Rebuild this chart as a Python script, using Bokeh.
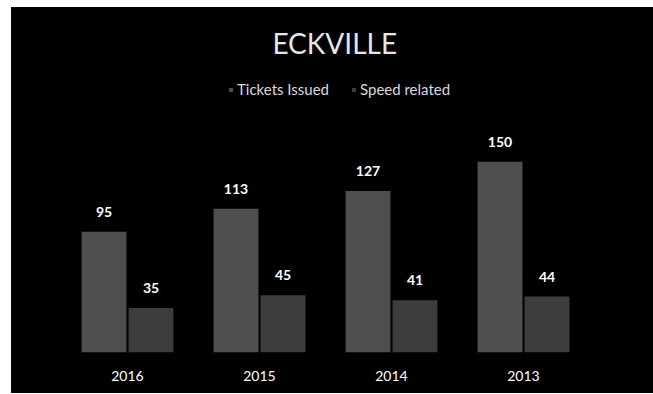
from bokeh.plotting import figure
from bokeh.models import (ColumnDataSource, FactorRange, Range1d, Label,
                          Legend, LegendItem)
from bokeh.transform import dodge
from bokeh.core.properties import value
from bokeh.embed import file_html
from bokeh.resources import INLINE

# Eckville traffic tickets per year
years = ["2016", "2015", "2014", "2013"]
tickets_issued = [95, 113, 127, 150]
speed_related = [35, 45, 41, 44]

TICKET_COLOR = "#4f4f4f"
SPEED_COLOR = "#3d3d3d"
FONT = "Lato"

src = ColumnDataSource(dict(
    year=years,
    tickets=tickets_issued,
    speed=speed_related,
    tickets_txt=[str(v) for v in tickets_issued],
    speed_txt=[str(v) for v in speed_related],
))

p = figure(
    width=642, height=386,
    x_range=FactorRange(*years, range_padding=0.0),
    y_range=Range1d(0, 265),
    output_backend="svg", toolbar_location=None,
    background_fill_color="black", border_fill_color="black",
    min_border_left=50, min_border_right=64,
    min_border_top=8, min_border_bottom=41,
    styles={"background-color": "black", "margin-left": "11px", "margin-top": "7px"},
)
p.outline_line_color = None

OFF = 0.178
BW = 0.34
r_t = p.vbar(x=dodge("year", -OFF, range=p.x_range), top="tickets", width=BW,
             source=src, fill_color=TICKET_COLOR, line_color=None)
r_s = p.vbar(x=dodge("year", OFF, range=p.x_range), top="speed", width=BW,
             source=src, fill_color=SPEED_COLOR, line_color=None)

# value labels above each bar
for col, txt, off in (("tickets", "tickets_txt", -OFF), ("speed", "speed_txt", OFF)):
    p.text(x=dodge("year", off, range=p.x_range), y=col, text=txt, source=src,
           text_align="center", text_baseline="middle", y_offset=-20,
           text_color="white", text_font=value(FONT), text_font_size="14px",
           text_font_style="bold")

# chart title
p.add_layout(Label(x=2.07, y=243, text="ECKVILLE", text_align="center",
                   text_baseline="middle", text_color="#e6e6e6",
                   text_font=FONT, text_font_size="28px"))

legend = Legend(
    items=[LegendItem(label="Tickets Issued", renderers=[r_t]),
           LegendItem(label="Speed related", renderers=[r_s])],
    orientation="horizontal", location=(167, 254),
    glyph_width=5, glyph_height=5, label_standoff=4, spacing=22,
    label_height=18, padding=0, margin=0,
    label_text_color="#d9d9d9", label_text_font=FONT, label_text_font_size="15px",
    background_fill_alpha=0, border_line_alpha=0,
)
p.add_layout(legend, "center")

p.xgrid.grid_line_color = None
p.ygrid.grid_line_color = None
p.yaxis.visible = False
p.xaxis.axis_line_color = None
p.xaxis.major_tick_line_color = None
p.xaxis.minor_tick_line_color = None
p.xaxis.major_label_standoff = 12
p.xaxis.major_label_text_color = "white"
p.xaxis.major_label_text_font = FONT
p.xaxis.major_label_text_font_size = "14px"

with open("out.html", "w") as f:
    f.write(file_html(p, INLINE))
